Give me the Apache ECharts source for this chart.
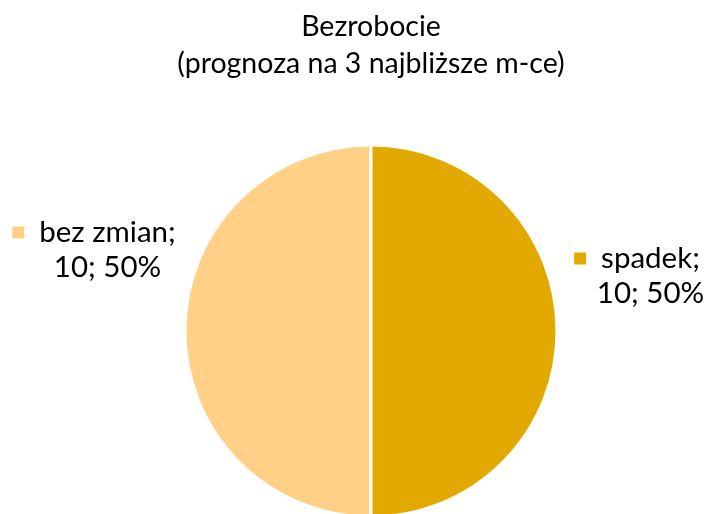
<!DOCTYPE html>
<html>
<head>
<meta charset="utf-8">
<script src="https://cdn.jsdelivr.net/npm/echarts@6/dist/echarts.min.js"></script>
<style>
  html, body { margin: 0; padding: 0; background: #fff; }
  #chart { width: 706px; height: 514px; }
</style>
</head>
<body>
<div id="chart"></div>
<script>
// dane
var categories = ['bez zmian', 'spadek'];
var values = [10, 10];
var colors = ['#FFD085', '#E2AA00'];

// pozycje etykiet (środek bloku tekstu)
var labelPos = [
  { x: 94, y: 250 },
  { x: 637, y: 276 }
];

var chart = echarts.init(document.getElementById('chart'));

var option = {
  title: {
    text: 'Bezrobocie\n(prognoza na 3 najbliższe m-ce)',
    // tytuł wyśrodkowany nad kołem, nie nad całym obszarem
    left: 371,
    top: 8,
    textAlign: 'center',
    padding: 0,
    textStyle: {
      fontFamily: 'Lato',
      fontSize: 28.5,
      fontWeight: 'normal',
      lineHeight: 37,
      color: '#000'
    }
  },
  animation: false,
  series: [{
    type: 'pie',
    center: [371, 331],
    radius: 186,
    startAngle: 90,
    clockwise: false,
    itemStyle: {
      borderColor: '#fff',
      borderWidth: 3
    },
    labelLine: { show: false },
    label: {
      show: true,
      position: 'inside',
      overflow: 'none',
      align: 'center',
      fontFamily: 'Lato',
      fontSize: 29.5,
      color: '#000',
      formatter: function (p) {
        return '{m|}{g|}{t|' + p.name + ';}\n{p|}{t|' + p.value + '; ' + Math.round(p.percent) + '%}';
      }
    },
    labelLayout: function (params) {
      var pos = labelPos[params.dataIndex];
      return { x: pos.x, y: pos.y, align: 'center', verticalAlign: 'middle', hideOverlap: false };
    },
    data: categories.map(function (name, i) {
      return {
        name: name,
        value: values[i],
        itemStyle: { color: colors[i] },
        label: {
          rich: {
            m: { width: 12, height: 12, backgroundColor: colors[i] },
            g: { width: 15 },
            p: { width: 27 },
            t: { fontFamily: 'Lato', fontSize: 29.5, color: '#000', lineHeight: 35 }
          }
        }
      };
    })
  }]
};

chart.setOption(option);
</script>
</body>
</html>
